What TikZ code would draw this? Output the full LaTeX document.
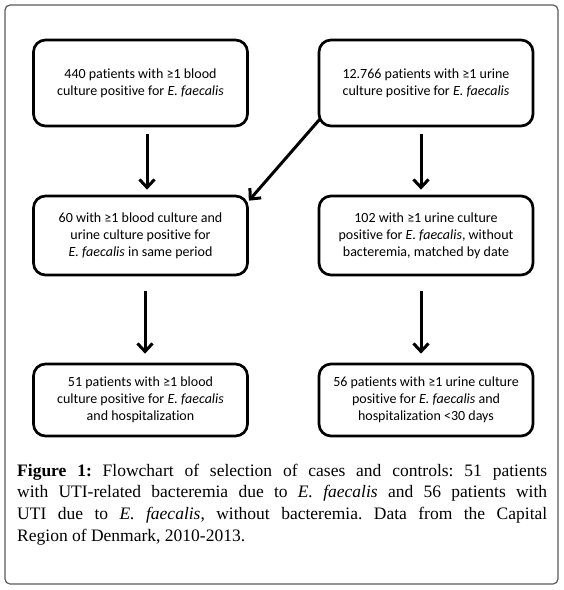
\documentclass[tikz,border=0pt]{standalone}
\usepackage{fontspec}
\setmainfont{Liberation Serif}
\newfontfamily\boxfont[Ligatures=NoCommon]{Carlito}
\usetikzlibrary{arrows.meta}
\tikzset{
  flowbox/.style={draw=black, line width=2.7bp, rounded corners=12bp, minimum width=214bp, inner sep=0pt, align=center, font=\boxfont\fontsize{14bp}{17bp}\selectfont},
  flowarrow/.style={line width=3bp, -{Straight Barb[length=8bp,width=15bp]}},
  frame/.style={draw=black!65, line width=1.2bp, rounded corners=5bp}
}
\begin{document}
\begin{tikzpicture}[x=1bp,y=-1bp]
\useasboundingbox (0,0) rectangle (564,590);
\draw[frame] (5,5) rectangle (558,584);
\node[flowbox, minimum height=86bp] (tl) at (140.5,83) {440 patients with ≥1 blood\\culture positive for \textit{E. faecalis}};
\node[flowbox, minimum height=86bp] (tr) at (426,83) {12.766 patients with ≥1 urine\\culture positive for \textit{E. faecalis}};
\node[flowbox, minimum height=79bp] (ml) at (140.5,235.5) {60 with ≥1 blood culture and\\urine culture positive for\\\textit{E. faecalis} in same period};
\node[flowbox, minimum height=79bp] (mr) at (426,235.5) {102 with ≥1 urine culture\\positive for \textit{E. faecalis}, without\\bacteremia, matched by date};
\node[flowbox, minimum height=72bp] (bl) at (140.5,400) {51 patients with ≥1 blood\\culture positive for \textit{E. faecalis}\\and hospitalization};
\node[flowbox, minimum height=72bp] (br) at (426,400) {56 patients with ≥1 urine culture\\positive for \textit{E. faecalis} and\\hospitalization <30 days};
\draw[flowarrow] ([xshift=6.5bp,yshift=-7bp]tl.south) -- ([xshift=6.5bp,yshift=5bp]ml.north);
\draw[flowarrow] ([xshift=-5bp,yshift=-7bp]tr.south) -- ([xshift=-5bp,yshift=5bp]mr.north);
\draw[flowarrow] ([shift={(2,-8)}]tr.south west) -- ([shift={(0,6)}]ml.north east);
\draw[flowarrow] ([xshift=4.5bp,yshift=-15bp]ml.south) -- ([xshift=4.5bp,yshift=9bp]bl.north);
\draw[flowarrow] ([xshift=-5bp,yshift=-15bp]mr.south) -- ([xshift=-5bp,yshift=9bp]br.north);
\node[anchor=base west, inner sep=0pt] (cap) at (17,476) {\parbox[t]{530bp}{\frenchspacing\fontsize{17.5bp}{21.7bp}\selectfont\textbf{Figure 1:} Flowchart of selection of cases and controls: 51 patients\linebreak with UTI-related bacteremia due to \textit{E. faecalis} and 56 patients with\linebreak UTI due to \textit{E. faecalis}, without bacteremia. Data from the Capital\linebreak Region of Denmark, 2010-2013.}};
\end{tikzpicture}
\end{document}
